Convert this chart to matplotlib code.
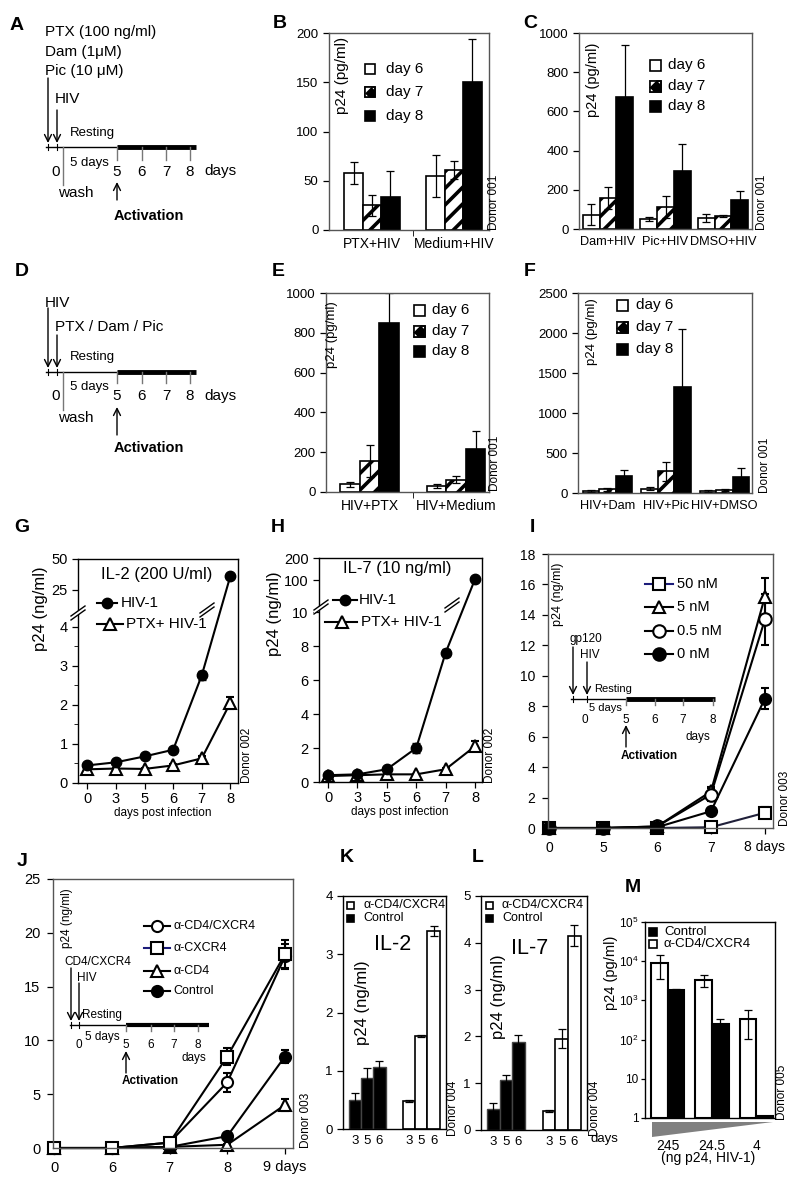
import numpy as np
import matplotlib.pyplot as plt
from matplotlib.patches import Rectangle, Polygon
from matplotlib.ticker import NullLocator

plt.rcParams['font.family'] = ['Liberation Sans', 'DejaVu Sans']
plt.rcParams['hatch.linewidth'] = 2.6
plt.rcParams['mathtext.fontset'] = 'custom'
plt.rcParams['mathtext.rm'] = 'Liberation Sans'
plt.rcParams['axes.linewidth'] = 1.0

W, H = 800, 1181

# ---------------- data ----------------
days = ['day 6', 'day 7', 'day 8']

b_groups = ['PTX+HIV', 'Medium+HIV']
b_vals = [[58, 55], [25, 61], [33, 150]]
b_err = [[11, 21], [11, 9], [27, 44]]

c_groups = ['Dam+HIV', 'Pic+HIV', 'DMSO+HIV']
c_vals = [[73, 53, 56], [158, 112, 68], [672, 294, 150]]
c_err = [[55, 10, 20], [56, 55, 5], [265, 140, 46]]

e_groups = ['HIV+PTX', 'HIV+Medium']
e_vals = [[38, 28], [155, 62], [850, 214]]
e_err = [[14, 10], [80, 17], [150, 92]]

f_groups = ['HIV+Dam', 'HIV+Pic', 'HIV+DMSO']
f_vals = [[22, 55, 25], [45, 270, 40], [212, 1330, 200]]
f_err = [[10, 20, 8], [20, 120, 12], [70, 715, 110]]

gh_days = ['0', '3', '5', '6', '7', '8']
g_hiv = [0.45, 0.53, 0.68, 0.85, 2.75, 36]
g_hiv_err = [0.03, 0.03, 0.04, 0.07, 0.12, 1.5]
g_ptx = [0.35, 0.37, 0.36, 0.45, 0.63, 2.05]
g_ptx_err = [0.02, 0.02, 0.02, 0.04, 0.05, 0.15]

h_hiv = [0.4, 0.45, 0.75, 2.0, 7.6, 105]
h_hiv_err = [0.05, 0.05, 0.1, 0.3, 0.2, 8]
h_ptx = [0.35, 0.4, 0.45, 0.45, 0.75, 2.1]
h_ptx_err = [0.03, 0.03, 0.03, 0.05, 0.1, 0.3]

i_days = ['0', '5', '6', '7', '8 days']
i_labels = ['50 nM', '5 nM', '0.5 nM', '0 nM']
i_vals = [[0, 0, 0, 0.05, 1.0], [0, 0, 0.1, 2.4, 15.2],
          [0, 0, 0.1, 2.2, 13.7], [0, 0, 0.05, 1.1, 8.5]]
i_err = [[0, 0, 0, 0.05, 0.35], [0, 0, 0.05, 0.3, 1.2],
         [0, 0, 0.05, 0.4, 1.7], [0, 0, 0.03, 0.2, 0.7]]

j_days = ['0', '6', '7', '8', '9 days']
j_labels = ['α-CD4/CXCR4', 'α-CXCR4', 'α-CD4', 'Control']
j_vals = [[0, 0, 0.5, 6.1, 17.8], [0, 0, 0.5, 8.5, 18.0],
          [0, 0, 0.1, 0.3, 4.0], [0, 0, 0.1, 1.1, 8.5]]
j_err = [[0, 0, 0.1, 0.9, 1.2], [0, 0, 0.1, 0.8, 1.3],
         [0, 0, 0.05, 0.1, 0.6], [0, 0, 0.05, 0.2, 0.6]]

kl_days = ['3', '5', '6']
kl_labels = ['α-CD4/CXCR4', 'Control']
k_ctrl = [0.5, 0.87, 1.07]
k_ctrl_err = [0.12, 0.18, 0.09]
k_ab = [0.48, 1.6, 3.4]
k_ab_err = [0.02, 0.02, 0.08]
l_ctrl = [0.45, 1.07, 1.87]
l_ctrl_err = [0.12, 0.1, 0.17]
l_ab = [0.4, 1.95, 4.15]
l_ab_err = [0.02, 0.2, 0.22]

m_doses = ['245', '24.5', '4']
m_labels = ['Control', 'α-CD4/CXCR4']
m_ctrl = [1800, 255, 1.1]
m_ctrl_err = [150, 85, 0]
m_ab = [9000, 3400, 330]
m_ab_err = [5500, 1150, 225]

# ---------------- helpers ----------------
fig = plt.figure(figsize=(8, 11.81), dpi=100)

ov = fig.add_axes([0, 0, 1, 1], zorder=10)
ov.set_xlim(0, W)
ov.set_ylim(H, 0)
ov.axis('off')
ov.set_autoscale_on(False)


def box(l, t, r, b, spine='black'):
    ax = fig.add_axes([l / W, 1 - b / H, (r - l) / W, (b - t) / H])
    for s in ax.spines.values():
        s.set_color(spine)
    ax.tick_params(direction='out', length=4, width=0.9)
    return ax


def put(x, y, s, fs, **kw):
    kw.setdefault('ha', 'center')
    kw.setdefault('va', 'center')
    ov.text(x, y, s, fontsize=fs, **kw)


def arrow(x, y0, y1, lw=1.0):
    ov.annotate('', xy=(x, y1), xytext=(x, y0),
                arrowprops=dict(arrowstyle='->,head_length=0.5,head_width=0.25',
                                lw=lw, color='black', shrinkA=0, shrinkB=0))


def swatch(x, y, s, kind):
    fc = 'black' if kind == 2 else 'white'
    ov.add_patch(Rectangle((x - s / 2, y - s / 2), s, s, facecolor=fc,
                           edgecolor='black', lw=1.2))
    if kind == 1:
        h = s / 2
        ov.add_patch(Polygon([(x - h * 0.3, y + h), (x + h, y + h), (x + h, y - h * 0.3),
                              (x + h * 0.3, y - h), (x - h, y - h), (x - h, y + h * 0.3)],
                             facecolor='black', edgecolor='none'))
        ov.add_patch(Polygon([(x - h, y + h), (x - h * 0.3, y + h), (x - h, y + h * 0.3)],
                             facecolor='white', edgecolor='none'))
        ov.add_patch(Polygon([(x - h, y - h), (x + h * 0.3, y - h), (x - h, y + h * 0.3)],
                             facecolor='white', edgecolor='none'))
        ov.add_patch(Rectangle((x - h, y - h), s, s, facecolor='none',
                               edgecolor='black', lw=1.2))


def key(x1, x2, xm, y, marker, filled, color='black', ms=7):
    ov.plot([x1, x2], [y, y], color=color, lw=1.5)
    ov.plot([xm], [y], marker=marker, ms=ms, mfc='black' if filled else 'white',
            mec='black', mew=1.5)


def brk(x, y):
    d = np.array([7.0, -5.0])
    v = np.array([0.0, 4.0])
    c = np.array([x, y])
    ov.add_patch(Polygon([c - d - v / 2, c + d - v / 2, c + d + v / 2, c - d + v / 2],
                         facecolor='white', edgecolor='none', zorder=4))
    for s in (-1, 1):
        p0, p1 = c - d + s * v / 2, c + d + s * v / 2
        ov.plot([p0[0], p1[0]], [p0[1], p1[1]], color='black', lw=1.0, zorder=5)


def donor(x, y, s):
    put(x, y, s, 8.5, rotation=90)


def scheme(arrows, y, x0, days_x, x_end, zero_x, num_y, fs_num, fs_txt, fs_act,
           rest, five, dlab, act, tick_dn=12, thick=3.5, wash=None):
    ov.plot([x0, days_x[0]], [y, y], color='black', lw=1.0)
    ov.plot([days_x[0], x_end], [y, y], color='black', lw=thick, solid_capstyle='butt')
    for xa, yt in arrows:
        arrow(xa, yt, y - 4)
        ov.plot([xa, xa], [y - 3, y + 3], color='black', lw=0.8)
    for xd in days_x:
        ov.plot([xd, xd], [y, y + tick_dn], color='#777777', lw=1.0)
    put(zero_x, num_y, '0', fs_num)
    for xd, t in zip(days_x, ['5', '6', '7', '8']):
        put(xd, num_y, t, fs_num)
    put(rest[0], rest[1], 'Resting', fs_txt)
    put(five[0], five[1], '5 days', fs_txt)
    put(dlab[0], dlab[1], 'days', fs_num)
    arrow(act[0], act[1], act[2])
    put(act[3], act[4], 'Activation', fs_act, fontweight='bold')
    if wash:
        ov.plot([wash[0], wash[0]], [wash[1], wash[2]], color='#777777', lw=1.0)
        put(wash[3], wash[4], 'wash', fs_num)


def grouped(rect, groups, vals, errs, ymax, step, width, xlim, cat_fs, minor=False):
    ax = box(*rect, spine='#555555')
    x = np.arange(len(groups))
    for i in range(3):
        ax.bar(x + (i - 1) * width, vals[i], width, yerr=errs[i],
               facecolor='black' if i == 2 else 'white', edgecolor='black',
               lw=1.2, hatch='//' if i == 1 else None, capsize=3,
               error_kw=dict(elinewidth=0.9, capthick=0.9, ecolor='black'))
    ax.set_xlim(*xlim)
    ax.set_ylim(0, ymax)
    ax.set_yticks(np.arange(0, ymax + 1, step))
    ax.set_xticks(x, groups, fontsize=cat_fs)
    ax.tick_params(axis='x', length=0, pad=5)
    ax.tick_params(axis='y', labelsize=9.5)
    if minor:
        ax.set_xticks([0.5], minor=True)
        ax.tick_params(axis='x', which='minor', length=4)
    return ax


def piecewise(ax, src, dst):
    ax.set_yscale('function', functions=(lambda y: np.interp(y, src, dst),
                                          lambda u: np.interp(u, dst, src)))


# ---------------- A / D schematics ----------------
put(17, 25, 'A', 14, fontweight='bold')
put(45, 32, 'PTX (100 ng/ml)', 11, ha='left')
put(45, 52, 'Dam (1μM)', 11, ha='left')
put(45, 71, 'Pic (10 μM)', 11, ha='left')
put(55, 99, 'HIV', 11, ha='left')
scheme([(48, 78), (57, 110)], 147, 46, [117, 142, 166, 190], 196, 56, 172,
       11, 9.5, 10.5, (92, 133), (89, 163), (220, 171), (117, 200, 182, 149, 216),
       tick_dn=13, wash=(63, 147, 185, 76, 193))

put(22, 272, 'D', 14, fontweight='bold')
put(45, 303, 'HIV', 11, ha='left')
put(55, 327, 'PTX / Dam / Pic', 11, ha='left')
scheme([(48, 308), (57, 335)], 372, 46, [117, 142, 166, 190], 196, 56, 396,
       11, 9.5, 10.5, (92, 357), (89, 387), (220, 396), (117, 435, 407, 149, 448),
       tick_dn=11, wash=(63, 372, 410, 76, 418))

# ---------------- B, C, E, F ----------------
grouped((329, 33, 489, 230), b_groups, b_vals, b_err, 200, 50, 0.224, (-0.524, 1.427), 10, minor=True)
put(280, 23, 'B', 14, fontweight='bold')
put(342, 75, 'p24 (pg/ml)', 11, rotation=90)
for i, yy in enumerate([69, 92, 116]):
    swatch(370, yy, 10, i)
    put(386, yy, days[i], 11, ha='left')
donor(494, 202, 'Donor 001')

grouped((579, 33, 752, 229), c_groups, c_vals, c_err, 1000, 200, 0.29, (-0.504, 2.504), 9.2)
put(530, 23, 'C', 14, fontweight='bold')
put(593, 80, 'p24 (pg/ml)', 10.5, rotation=90)
for i, yy in enumerate([65, 86, 106]):
    swatch(655, yy, 11, i)
    put(668, yy, days[i], 11, ha='left')
donor(762, 202, 'Donor 001')

grouped((326, 293, 489, 492), e_groups, e_vals, e_err, 1000, 200, 0.225, (-0.503, 1.38), 10, minor=True)
put(278, 272, 'E', 14, fontweight='bold')
put(332, 335, 'p24 (pg/ml)', 9.5, rotation=90)
for i, yy in enumerate([310, 331, 351]):
    swatch(419, yy, 11, i)
    put(432, yy, days[i], 11, ha='left')
donor(495, 463, 'Donor 001')

grouped((578, 293, 752, 493), f_groups, f_vals, f_err, 2500, 500, 0.28, (-0.504, 2.47), 9.2)
put(530, 272, 'F', 14, fontweight='bold')
put(592, 332, 'p24 (pg/ml)', 9.5, rotation=90)
for i, yy in enumerate([305, 327, 349]):
    swatch(622, yy, 11, i)
    put(636, yy, days[i], 11, ha='left')
donor(765, 465, 'Donor 001')

# ---------------- G ----------------
axg = box(78, 559, 238, 783)
piecewise(axg, [0, 4, 25, 50], [0, 4, 4.94, 5.73])
xg = np.arange(len(gh_days))
axg.errorbar(xg, g_ptx, yerr=g_ptx_err, marker='^', ms=8, mfc='white', mec='black',
             mew=1.5, color='black', lw=1.5, capsize=3, clip_on=False)
axg.errorbar(xg, g_hiv, yerr=g_hiv_err, marker='o', ms=7.5, mfc='black', mec='black',
             color='black', lw=1.5, capsize=3, clip_on=False)
axg.set_xlim(-0.33, 5.27)
axg.set_ylim(0, 50)
axg.set_yticks([0, 1, 2, 3, 4, 25, 50])
axg.set_yticks([0.5, 1.5, 2.5, 3.5], minor=True)
axg.tick_params(which='minor', direction='out', length=3)
axg.set_xticks(xg, gh_days)
axg.tick_params(labelsize=10.5)
axg.tick_params(axis='x', pad=2.5)
axg.set_ylabel('p24 (ng/ml)', fontsize=12)
axg.yaxis.set_label_coords(-0.185, 0.78)
put(22, 527, 'G', 14, fontweight='bold')
put(157, 574, 'IL-2 (200 U/ml)', 12)
key(97, 117, 107, 603, 'o', True)
put(121, 603, 'HIV-1', 11, ha='left')
key(97, 123, 110, 624, '^', False, ms=8)
put(126, 624, 'PTX+ HIV-1', 11, ha='left')
put(163, 813, 'days post infection', 8.5)
brk(78, 613)
brk(207, 610)
donor(247, 755, 'Donor 002')

# ---------------- H ----------------
axh = box(319, 558, 482, 782)
piecewise(axh, [0, 10, 100, 200], [0, 10, 11.86, 13.18])
axh.errorbar(xg, h_ptx, yerr=h_ptx_err, marker='^', ms=8, mfc='white', mec='black',
             mew=1.5, color='black', lw=1.5, capsize=3, clip_on=False)
axh.errorbar(xg, h_hiv, yerr=h_hiv_err, marker='o', ms=7.5, mfc='black', mec='black',
             color='black', lw=1.5, capsize=3, clip_on=False)
axh.set_xlim(-0.31, 5.24)
axh.set_ylim(0, 200)
axh.set_yticks([0, 2, 4, 6, 8, 10, 100, 200])
axh.set_xticks(xg, gh_days)
axh.tick_params(labelsize=10.5)
axh.tick_params(axis='x', pad=2.5)
axh.set_ylabel('p24 (ng/ml)', fontsize=12)
axh.yaxis.set_label_coords(-0.225, 0.75)
put(278, 528, 'H', 14, fontweight='bold')
put(397, 569, 'IL-7 (10 ng/ml)', 12)
key(333, 357, 345, 600, 'o', True)
put(359, 600, 'HIV-1', 11, ha='left')
key(325, 357, 342, 622, '^', False, ms=8)
put(361, 622, 'PTX+ HIV-1', 11, ha='left')
put(400, 812, 'days post infection', 8.5)
brk(321, 607)
brk(452, 605)
donor(490, 755, 'Donor 002')

# ---------------- I ----------------
axi = box(548, 554, 773, 828, spine='#555555')
xi = np.arange(len(i_days))
i_style = [('s', False, '#1c1c7a'), ('^', False, 'black'), ('o', False, 'black'), ('o', True, 'black')]
for vals, err, (mk, filled, col) in zip(i_vals, i_err, i_style):
    axi.errorbar(xi, vals, yerr=err, marker=mk, ms=8 if mk != 'o' or filled else 9,
                 mfc='black' if filled else 'white', mec='black', mew=1.5,
                 color='#20203a' if col != 'black' else 'black', ecolor='black',
                 lw=1.5, capsize=3, clip_on=False)
axi.set_xlim(-0.02, 4.15)
axi.set_ylim(0, 18)
axi.set_yticks(np.arange(0, 19, 2))
axi.set_xticks(xi, i_days)
axi.tick_params(labelsize=10, pad=5)
put(532, 527, 'I', 14, fontweight='bold')
put(558, 594, 'p24 (ng/ml)', 9, rotation=90)
for (mk, filled, col), lab, yy in zip(i_style, i_labels, [584, 607, 631, 654]):
    key(645, 673, 659, yy, mk, filled, color=col, ms=8 if mk != 'o' else 9)
    put(677, yy, lab, 10.5, ha='left')
put(586, 639, 'gp120', 8.5)
put(590, 655, 'HIV', 8.5)
scheme([(573, 647), (587, 662)], 699, 571, [626, 655, 683, 713], 715, 585, 720,
       8.5, 8, 8.5, (613, 689), (605, 708), (698, 737), (626, 747, 725, 649, 756),
       tick_dn=6, thick=3.5)
donor(785, 798, 'Donor 003')

# ---------------- J ----------------
axj = box(53, 879, 293, 1148, spine='#555555')
xj = np.arange(len(j_days))
j_style = [('o', False, 'black'), ('s', False, '#1c1c7a'), ('^', False, 'black'), ('o', True, 'black')]
for idx in [0, 2, 3, 1]:
    mk, filled, col = j_style[idx]
    axj.errorbar(xj, j_vals[idx], yerr=j_err[idx], marker=mk, ms=9 if mk == 's' else 8,
                 mfc='black' if filled else 'white', mec='black', mew=1.5,
                 color='black', lw=1.5, capsize=3, clip_on=False)
axj.set_xlim(-0.02, 4.14)
axj.set_ylim(0, 25)
axj.set_yticks(np.arange(0, 26, 5))
axj.set_xticks(xj, j_days)
axj.tick_params(labelsize=10.5, pad=5)
put(22, 862, 'J', 14, fontweight='bold')
put(67, 918, 'p24 (ng/ml)', 8.5, rotation=90)
for (mk, filled, col), lab, yy in zip(j_style, j_labels, [926, 948, 971, 991]):
    key(144, 170, 157, yy, mk, filled, color=col, ms=8)
    put(173, yy, lab, 9, ha='left')
put(98, 962, 'CD4/CXCR4', 8.5)
put(87, 978, 'HIV', 8.5)
scheme([(71, 968), (79, 983)], 1025, 70, [126, 151, 174, 198], 209, 79, 1045,
       8.5, 8.5, 8.5, (102, 1015), (102, 1037), (194, 1058), (126, 1073, 1051, 150, 1081),
       tick_dn=6, thick=3)
donor(306, 1120, 'Donor 003')


# ---------------- K, L ----------------
def kl_panel(rect, ctrl, ctrl_err, ab, ab_err, ymax):
    ax = box(*rect)
    xc = np.arange(3)
    xa = xc + 4.42
    ekw = dict(elinewidth=0.9, capthick=0.9, ecolor='black')
    ax.bar(xc, ctrl, 1.0, yerr=ctrl_err, facecolor='black', edgecolor='#444444',
           lw=1.0, capsize=3, error_kw=ekw)
    ax.bar(xa, ab, 1.0, yerr=ab_err, facecolor='white', edgecolor='black',
           lw=1.2, capsize=3, error_kw=ekw)
    ax.set_xlim(-0.97, 7.43)
    ax.set_ylim(0, ymax)
    ax.set_yticks(np.arange(0, ymax + 1, 1))
    ax.set_xticks(np.concatenate([xc, xa]), kl_days * 2)
    ax.tick_params(axis='x', length=0, pad=4)
    ax.tick_params(labelsize=9.5)
    return ax


kl_panel((343, 896, 446, 1129), k_ctrl, k_ctrl_err, k_ab, k_ab_err, 4)
put(347, 858, 'K', 14, fontweight='bold')
swatch(350, 905, 7, 0)
put(363, 905, kl_labels[0], 9, ha='left')
swatch(350, 918, 7, 2)
put(363, 918, kl_labels[1], 9, ha='left')
put(393, 945, 'IL-2', 15.5)
put(362, 1003, 'p24 (ng/ml)', 12, rotation=90)
donor(453, 1108, 'Donor 004')

kl_panel((481, 896, 587, 1130), l_ctrl, l_ctrl_err, l_ab, l_ab_err, 5)
put(478, 858, 'L', 14, fontweight='bold')
swatch(489, 905, 7, 0)
put(502, 905, kl_labels[0], 9, ha='left')
swatch(489, 918, 7, 2)
put(502, 918, kl_labels[1], 9, ha='left')
put(530, 948, 'IL-7', 15.5)
put(498, 997, 'p24 (ng/ml)', 12, rotation=90)
put(604, 1139, 'days', 9.5)
donor(595, 1108, 'Donor 004')

# ---------------- M ----------------
axm = box(645, 922, 775, 1118)
axm.set_yscale('log')
xm = np.arange(len(m_doses))
wm = 0.375
ekw = dict(elinewidth=0.9, capthick=0.9, ecolor='black')
axm.bar(xm - wm / 2, np.array(m_ab) - 1, wm, bottom=1, yerr=m_ab_err, facecolor='white',
        edgecolor='black', lw=1.5, capsize=3, error_kw=ekw)
axm.bar(xm + wm / 2, np.array(m_ctrl) - 1, wm, bottom=1, yerr=m_ctrl_err, facecolor='black',
        edgecolor='black', lw=1.5, capsize=3, error_kw=ekw)
axm.set_xlim(-0.52, 2.43)
axm.set_ylim(1, 1e5)
axm.set_yticks([1, 10, 1e2, 1e3, 1e4, 1e5],
               ['1', '10', r'$\mathregular{10^2}$', r'$\mathregular{10^3}$',
                r'$\mathregular{10^4}$', r'$\mathregular{10^5}$'])
axm.yaxis.set_minor_locator(NullLocator())
axm.set_xticks(xm, m_doses)
axm.tick_params(axis='x', length=0, pad=15, labelsize=10)
axm.tick_params(axis='y', labelsize=8.5, pad=1.5, length=3)
put(633, 887, 'M', 14, fontweight='bold')
swatch(653, 932, 8, 2)
put(664, 932, m_labels[0], 9.5, ha='left')
swatch(653, 944, 8, 0)
put(664, 944, m_labels[1], 9.5, ha='left')
put(611, 973, 'p24 (pg/ml)', 10.5, rotation=90)
ov.add_patch(Polygon([(652, 1122), (652, 1137), (773, 1122)], facecolor='#808080',
                     edgecolor='none'))
put(708, 1158, '(ng p24, HIV-1)', 10)
donor(782, 1092, 'Donor 005')

fig.savefig('out.png', dpi=100)
